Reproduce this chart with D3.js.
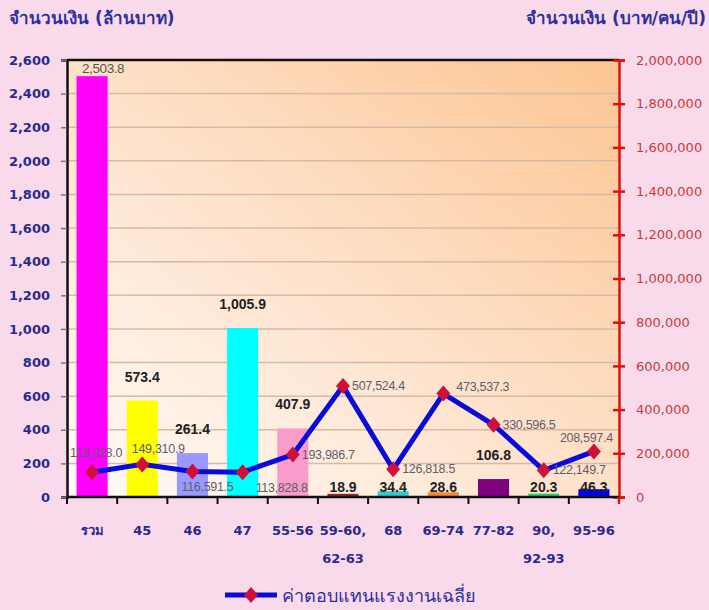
<!DOCTYPE html>
<html><head><meta charset="utf-8">
<script src="https://cdn.jsdelivr.net/npm/d3@7"></script>
<style>
body{margin:0;background:#F9DAEA;}
svg{display:block;}
text{font-family:"DejaVu Sans",Verdana,sans-serif;}
</style></head>
<body>
<svg id="c" width="709" height="610"></svg>
<script>
const categories = ["รวม","45","46","47","55-56","59-60,|62-63","68","69-74","77-82","90,|92-93","95-96"];
const amounts = [2503.8,573.4,261.4,1005.9,407.9,18.9,34.4,28.6,106.8,20.3,46.3];
const avgPay = [113328.0,149310.9,116591.5,113828.8,193986.7,507524.4,126818.5,473537.3,330596.5,122149.7,208597.4];
const barColors = ["#FF00FF","#FFFF00","#9999FF","#00FFFF","#F79CCB","#992222","#33CCCC","#F28A3C","#800080","#33CC66","#0000EE"];
const leftTicks = [0,200,400,600,800,1000,1200,1400,1600,1800,2000,2200,2400,2600];
const rightTicks = [0,200000,400000,600000,800000,1000000,1200000,1400000,1600000,1800000,2000000];
const lineLabelPlace = ["top","topR","bottom","bottomR","right","right","right","rightUp","right","right","topL"];
const leftTitle = "จำนวนเงิน (ล้านบาท)";
const rightTitle = "จำนวนเงิน (บาท/คน/ปี)";
const legendLabel = "ค่าตอบแทนแรงงานเฉลี่ย";

const svg = d3.select("#c");
const M = {l:67, r:619, t:60, b:497};
const x = d3.scaleBand().domain(d3.range(categories.length)).range([M.l, M.r]).paddingInner(0.38).paddingOuter(0.19);
const xc = i => x(i) + x.bandwidth()/2;
const y = d3.scaleLinear().domain([0,2600]).range([M.b, M.t]);
const y2 = d3.scaleLinear().domain([0,2000000]).range([M.b, M.t]);
const fmt1 = d3.format(",.1f");

const defs = svg.append("defs");
const g = defs.append("linearGradient").attr("id","bg").attr("x1","0").attr("y1","1").attr("x2","1").attr("y2","0");
g.append("stop").attr("offset","0").attr("stop-color","#FFFBF8");
g.append("stop").attr("offset","0.45").attr("stop-color","#FEE4CF");
g.append("stop").attr("offset","1").attr("stop-color","#FCC592");
svg.append("rect").attr("x",M.l).attr("y",M.t).attr("width",M.r-M.l).attr("height",M.b-M.t).attr("fill","url(#bg)");

// gridlines
svg.append("g").selectAll("line").data(leftTicks.filter(d=>d>0 && d<2600)).join("line")
  .attr("x1",M.l).attr("x2",M.r).attr("y1",d=>y(d)).attr("y2",d=>y(d))
  .attr("stroke","#D6BBA4").attr("stroke-width",1.5);

// bars
svg.append("g").selectAll("rect").data(amounts).join("rect")
  .attr("x",(d,i)=>x(i)).attr("width",x.bandwidth())
  .attr("y",d=>y(d)).attr("height",d=>y(0)-y(d))
  .attr("fill",(d,i)=>barColors[i]);

// top border
svg.append("line").attr("x1",M.l).attr("x2",M.r).attr("y1",M.t).attr("y2",M.t).attr("stroke","#111").attr("stroke-width",2.5);

// left axis
const la = svg.append("g").attr("transform",`translate(${M.l},0)`)
  .call(d3.axisLeft(y).tickValues(leftTicks).tickFormat(d3.format(",")).tickSize(6).tickPadding(11));
la.select(".domain").attr("stroke","#111").attr("stroke-width",2.5);
la.selectAll(".tick line").attr("stroke","#777").attr("stroke-width",1.5);
la.selectAll("text").attr("fill","#2A2A8C").attr("font-size",13).attr("font-weight","bold");

// right axis
const ra = svg.append("g").attr("transform",`translate(${M.r},0)`)
  .call(d3.axisRight(y2).tickValues(rightTicks).tickFormat(d3.format(",")).tickSize(6).tickPadding(11));
ra.select(".domain").attr("stroke","#E01010").attr("stroke-width",2.5);
ra.selectAll(".tick line").attr("stroke","#E01010").attr("stroke-width",2.5).attr("x1",-6);
ra.selectAll("text").attr("fill","#C83A3A").attr("font-size",13);

// bottom axis
const ba = svg.append("g").attr("transform",`translate(0,${M.b})`);
ba.append("line").attr("x1",M.l).attr("x2",M.r).attr("stroke","#111").attr("stroke-width",2.5);
const bt = d3.range(categories.length).map(i => M.l + i*(M.r-M.l)/categories.length);
ba.selectAll("line.t").data(bt).join("line").attr("class","t")
  .attr("x1",d=>d).attr("x2",d=>d).attr("y1",0).attr("y2",7).attr("stroke","#111").attr("stroke-width",2);
ba.append("line").attr("x1",M.r).attr("x2",M.r).attr("y1",0).attr("y2",7).attr("stroke","#E01010").attr("stroke-width",2.5);
const cl = ba.selectAll("text").data(categories).join("text")
  .attr("x",(d,i)=>xc(i)).attr("y",38).attr("text-anchor","middle")
  .attr("fill","#2A2A8C").attr("font-size",13).attr("font-weight","bold");
cl.each(function(d){
  const parts = d.split("|");
  const t = d3.select(this);
  parts.forEach((p,k)=>t.append("tspan").attr("x",t.attr("x")).attr("dy",k===0?0:28).text(p));
});

// bar labels
svg.append("g").selectAll("text").data(amounts).join("text")
  .attr("x",(d,i)=>xc(i) + (i===0?11:0))
  .attr("y",(d,i)=> i===0 ? y(d)-3 : (d>=100 ? y(d)-19 : y(0)-5.5))
  .attr("text-anchor","middle")
  .style("font-family","'Liberation Sans',Arial,sans-serif")
  .attr("font-size",(d,i)=>i===0?13.5:14)
  .attr("letter-spacing",(d,i)=>i===0?-0.4:0)
  .attr("font-weight",(d,i)=>i===0?"normal":"bold")
  .attr("fill",(d,i)=>i===0?"#555":"#222")
  .text(d=>fmt1(d));

// custom diamond marker
const diamond = {draw(ctx, size){ const w=7, h=8; ctx.moveTo(0,-h); ctx.lineTo(w,0); ctx.lineTo(0,h); ctx.lineTo(-w,0); ctx.closePath(); }};
const sym = d3.symbol().type(diamond);

// line
const line = d3.line().x((d,i)=>xc(i)).y(d=>y2(d));
svg.append("path").datum(avgPay).attr("d",line).attr("fill","none")
  .attr("stroke","#0A0ADC").attr("stroke-width",5).attr("stroke-linejoin","miter");
svg.append("g").selectAll("path").data(avgPay).join("path")
  .attr("d",sym).attr("transform",(d,i)=>`translate(${xc(i)},${y2(d)})`)
  .attr("fill","#D0103A");

// line labels
const off = {top:[4,-15,"middle"],topR:[16,-11,"middle"],bottom:[15,19,"middle"],bottomR:[13,20,"start"],
             right:[9,4,"start"],rightUp:[13,-3,"start"],topL:[-34,-9,"start"]};
svg.append("g").selectAll("text").data(avgPay).join("text")
  .attr("x",(d,i)=>xc(i)+off[lineLabelPlace[i]][0])
  .attr("y",(d,i)=>y2(d)+off[lineLabelPlace[i]][1])
  .attr("text-anchor",(d,i)=>off[lineLabelPlace[i]][2])
  .style("font-family","'Liberation Sans',Arial,sans-serif")
  .attr("font-size",12.5).attr("letter-spacing",-0.3).attr("fill","#5E5E6C")
  .text(d=>fmt1(d));

// titles
svg.append("text").attr("x",9).attr("y",24).attr("font-size",17).attr("font-weight","bold")
  .attr("fill","#2E2E9E").text(leftTitle);
svg.append("text").attr("x",706).attr("y",24).attr("text-anchor","end").attr("font-size",17).attr("font-weight","bold")
  .attr("fill","#2E2E9E").text(rightTitle);

// legend
const lg = svg.append("g").attr("transform","translate(225,595)");
lg.append("line").attr("x1",0).attr("x2",52).attr("stroke","#0A0ADC").attr("stroke-width",5);
lg.append("path").attr("d",sym).attr("transform","translate(26,0)").attr("fill","#D0103A");
lg.append("text").attr("x",57).attr("y",7).attr("font-size",18).attr("fill","#2E2E9E").text(legendLabel);
</script>
</body></html>
